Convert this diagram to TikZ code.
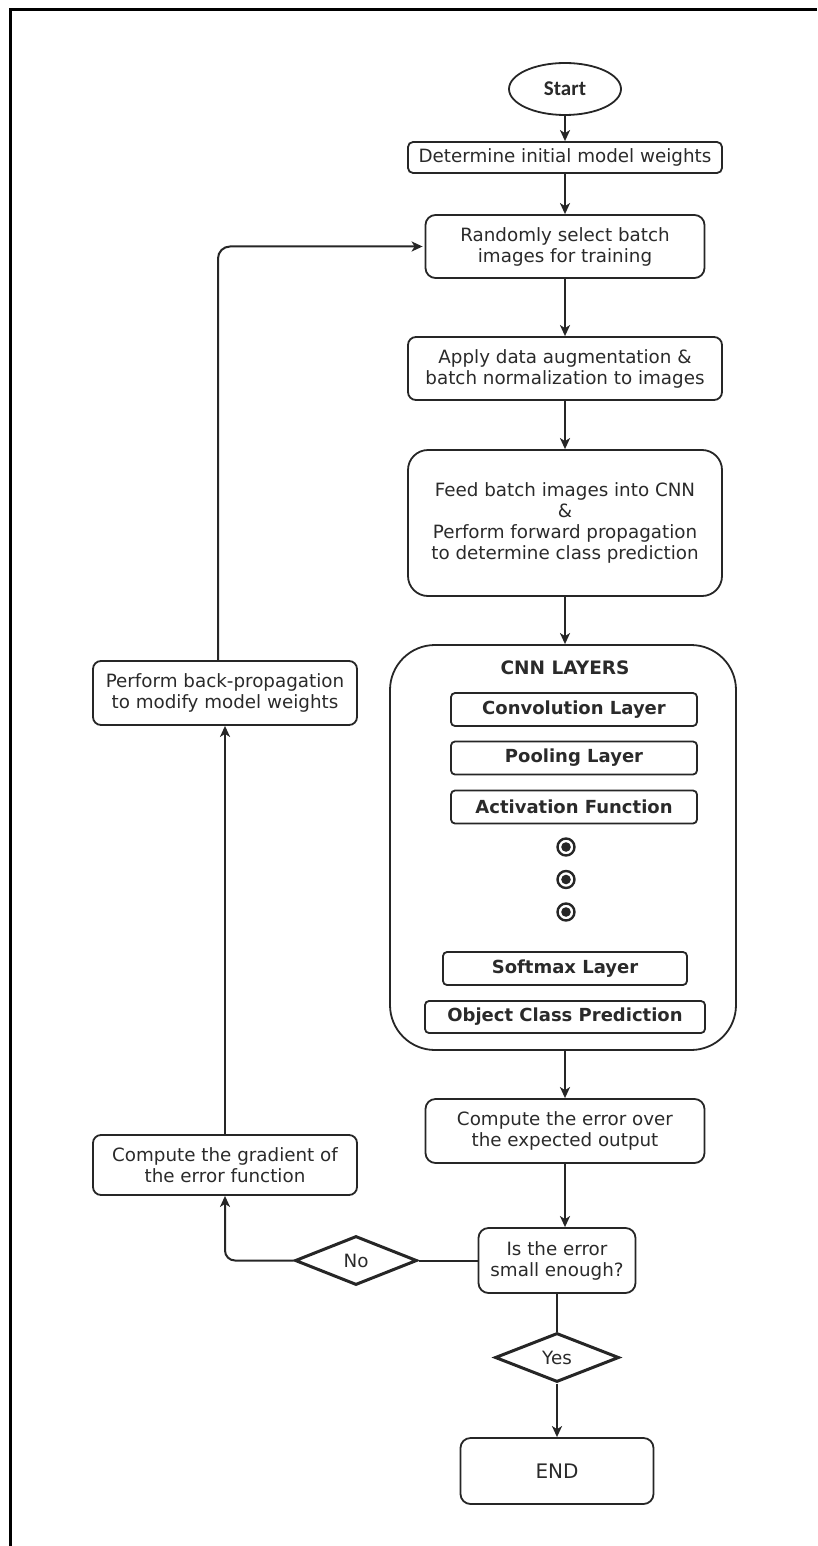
\documentclass[tikz,border=0pt]{standalone}
\usepackage{fontspec}
\setmainfont{DejaVu Sans}
\newfontfamily\startfont{Carlito}
\usetikzlibrary{shapes.geometric,arrows.meta}
\definecolor{ink}{HTML}{262626}
\definecolor{txt}{HTML}{2A2A2A}
\begin{document}
\begin{tikzpicture}[x=1pt,y=-1pt,
  every node/.style={inner sep=0pt, align=center, text=txt,
                     font=\fontsize{18.3}{21}\selectfont},
  box/.style={draw=ink, line width=1.8pt, rectangle, rounded corners=#1},
  box/.default=6pt,
  layer/.style={box=4pt, font=\bfseries\fontsize{18}{21}\selectfont},
  choice/.style={draw=ink, line width=3pt, diamond, aspect=2.5},
  arr/.style={draw=ink, line width=2pt, -{Stealth[length=11pt,width=10pt,inset=3pt]}},
  link/.style={draw=ink, line width=2pt},
  dot/.style={circle, draw=ink, line width=2.4pt, minimum size=17pt}]
\useasboundingbox (0,0) rectangle (817,1546);

% page frame (top and left edges)
\draw[line width=3pt, black] (10,1546) -- (10,10) -- (817,10);

% main column
\node[draw=ink, line width=1.8pt, ellipse, minimum width=112pt, minimum height=52pt,
      font=\startfont\bfseries\fontsize{21}{24}\selectfont] (start) at (565,89) {Start};
\node[box=5pt, minimum width=314pt, minimum height=31pt] (init) at (565,157.5)
  {Determine initial model weights};
\node[box=10pt, minimum width=279pt, minimum height=63pt] (sel) at (565,246.5)
  {Randomly select batch\\images for training};
\node[box=8pt, minimum width=314pt, minimum height=63pt] (aug) at (565,368.5)
  {Apply data augmentation \&\\batch normalization to images};
\node[box=20pt, minimum width=314pt, minimum height=146pt] (feed) at (565,523)
  {Feed batch images into CNN\\\&\\Perform forward propagation\\to determine class prediction};

% CNN layers container
\node[box=45pt, minimum width=346pt, minimum height=405pt] (cnn) at (563,847.5) {};
\node[font=\bfseries\fontsize{18.5}{21}\selectfont] (cnntitle) at (565,668) {CNN LAYERS};
\node[layer, minimum width=246pt, minimum height=33pt] (conv) at (574,709.5) {Convolution Layer};
\node[layer, minimum width=246pt, minimum height=33pt] (pool) at (574,758) {Pooling Layer};
\node[layer, minimum width=246pt, minimum height=33pt] (act) at (574,807) {Activation Function};
\node[dot] (d1) at (566,847) {};
\node[dot] (d2) at (566,879.5) {};
\node[dot] (d3) at (566,912) {};
\fill[ink] (d1.center) circle (4.8pt) (d2.center) circle (4.8pt) (d3.center) circle (4.8pt);
\node[layer, minimum width=244pt, minimum height=33pt] (soft) at (565,968.5) {Softmax Layer};
\node[layer, minimum width=280pt, minimum height=32pt] (ocp) at (565,1017) {Object Class Prediction};

\node[box=10pt, minimum width=279pt, minimum height=64pt] (err) at (565,1131)
  {Compute the error over\\the expected output};
\node[box=10pt, minimum width=157pt, minimum height=65pt] (isq) at (557,1260.5)
  {Is the error\\small enough?};
\node[choice, minimum width=124pt, minimum height=49pt] (yes) at (557,1357.5) {Yes};
\node[box=10pt, minimum width=193pt, minimum height=66pt, font=\fontsize{20}{23}\selectfont]
  (end) at (557,1471) {END};

% feedback column
\node[choice, minimum width=122pt, minimum height=49pt] (no) at (356,1260.5) {No};
\node[box=8pt, minimum width=264pt, minimum height=60pt] (grad) at (225,1165)
  {Compute the gradient of\\the error function};
\node[box=8pt, minimum width=264pt, minimum height=64pt] (bp) at (225,693)
  {Perform back-propagation\\to modify model weights};

% connectors
\draw[arr] (start.south) -- (start.south |- init.north);
\draw[arr] (init.south) -- (init.south |- sel.north);
\draw[arr] (sel.south) -- (sel.south |- aug.north);
\draw[arr] (aug.south) -- (aug.south |- feed.north);
\draw[arr] (feed.south) -- (feed.south |- cnn.north);
\draw[arr] (cnn.south -| err.south) -- (err.north);
\draw[arr] (err.south) -- (err.south |- isq.north);
\draw[link] (isq.south) -- (yes.north);
\draw[arr] (yes.south) -- (yes.south |- end.north);
\draw[link] (isq.west) -- (no.east);
\draw[arr, rounded corners=10pt] (no.west) -| (grad.south);
\draw[arr] (grad.north) -- (bp.south);
\draw[arr, rounded corners=12pt] ([xshift=-7pt]bp.north) |- ([xshift=-2pt]sel.west);
\end{tikzpicture}
\end{document}
